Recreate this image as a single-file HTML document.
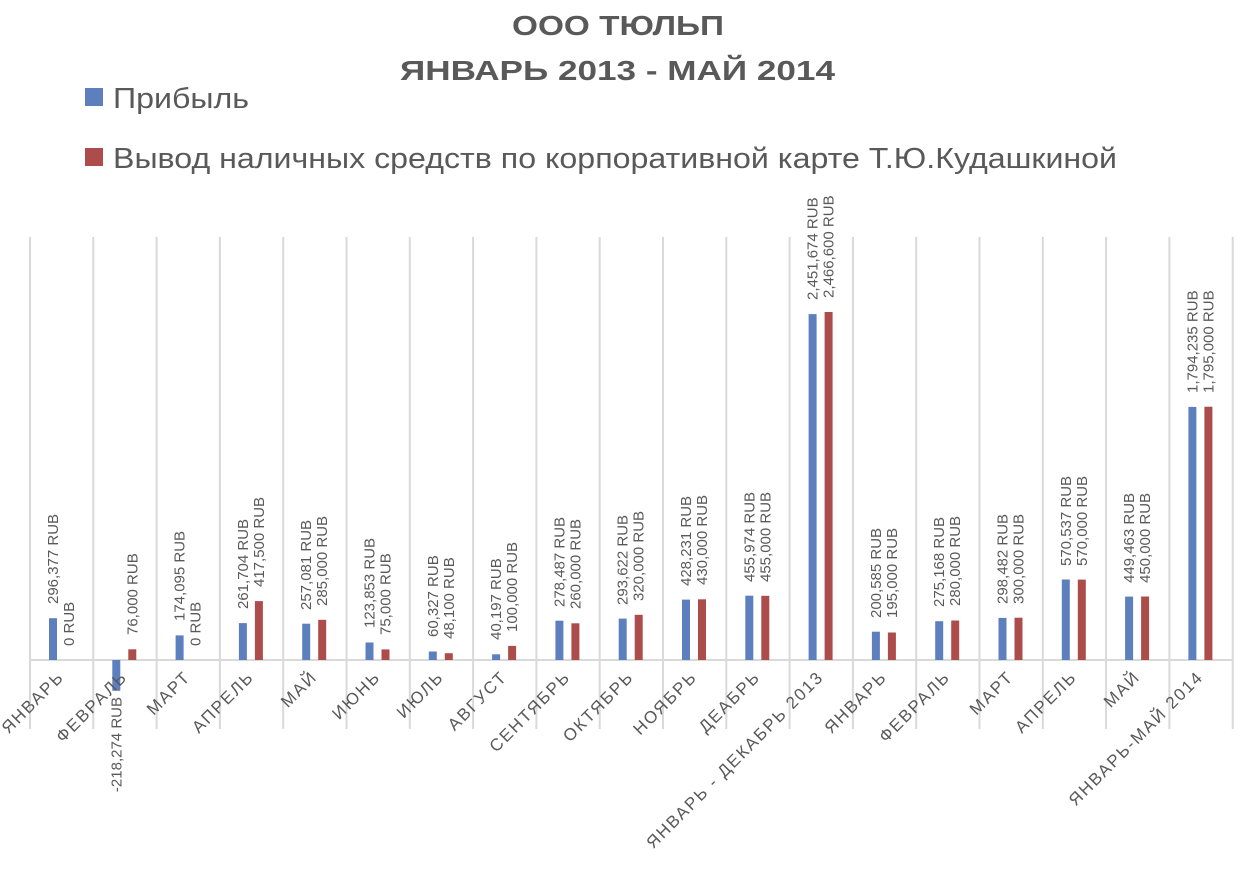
<!DOCTYPE html>
<html><head><meta charset="utf-8"><style>
html,body{margin:0;padding:0;background:#fff;}
svg{display:block;font-family:"Liberation Sans","DejaVu Sans",sans-serif;}
.v{font-size:15px;fill:#595959;}
.c{font-size:17px;fill:#595959;letter-spacing:1.8px;}
.b{fill:#5E7FBE}.r{fill:#AD4D4B}
</style></head><body>
<svg width="1241" height="871" viewBox="0 0 1241 871">
<text x="512" y="35" textLength="212" lengthAdjust="spacingAndGlyphs" font-size="28" font-weight="bold" fill="#595959">ООО ТЮЛЬП</text>
<text x="400" y="80" textLength="435" lengthAdjust="spacingAndGlyphs" font-size="28" font-weight="bold" fill="#595959">ЯНВАРЬ 2013 - МАЙ 2014</text>
<rect x="85" y="88" width="18" height="18" class="b"/>
<text x="113" y="108" font-size="29" textLength="136" lengthAdjust="spacingAndGlyphs" fill="#595959">Прибыль</text>
<rect x="85" y="148" width="18" height="18" class="r"/>
<text x="113" y="168" font-size="29" textLength="1004" lengthAdjust="spacingAndGlyphs" fill="#595959">Вывод наличных средств по корпоративной карте Т.Ю.Кудашкиной</text>
<g stroke="#d9d9d9" stroke-width="2">
<line x1="30" y1="237" x2="30" y2="729"/><line x1="93.3" y1="237" x2="93.3" y2="729"/><line x1="156.6" y1="237" x2="156.6" y2="729"/><line x1="219.9" y1="237" x2="219.9" y2="729"/><line x1="283.2" y1="237" x2="283.2" y2="729"/><line x1="346.5" y1="237" x2="346.5" y2="729"/><line x1="409.8" y1="237" x2="409.8" y2="729"/><line x1="473.1" y1="237" x2="473.1" y2="729"/><line x1="536.4" y1="237" x2="536.4" y2="729"/><line x1="599.7" y1="237" x2="599.7" y2="729"/><line x1="663" y1="237" x2="663" y2="729"/><line x1="726.3" y1="237" x2="726.3" y2="729"/><line x1="789.6" y1="237" x2="789.6" y2="729"/><line x1="852.9" y1="237" x2="852.9" y2="729"/><line x1="916.2" y1="237" x2="916.2" y2="729"/><line x1="979.5" y1="237" x2="979.5" y2="729"/><line x1="1042.8" y1="237" x2="1042.8" y2="729"/><line x1="1106.1" y1="237" x2="1106.1" y2="729"/><line x1="1169.4" y1="237" x2="1169.4" y2="729"/><line x1="1232.7" y1="237" x2="1232.7" y2="729"/>
<line x1="30" y1="660" x2="1233" y2="660"/>
</g>

<g transform="translate(30,0)">
<rect x="19" y="618.2" width="8" height="41.8" class="b"/>
<text class="v" transform="translate(28,604) rotate(-90)">296,377 RUB</text>
<text class="v" transform="translate(44,646) rotate(-90)">0 RUB</text>
<text class="c" text-anchor="end" transform="translate(35,678) rotate(-45)">ЯНВАРЬ</text>
</g>
<g transform="translate(93.3,0)">
<rect x="19" y="660" width="8" height="30.8" class="b"/>
<rect x="35" y="649.3" width="8" height="10.7" class="r"/>
<text class="v" text-anchor="end" transform="translate(28,697) rotate(-90)">-218,274 RUB</text>
<text class="v" transform="translate(44,635) rotate(-90)">76,000 RUB</text>
<text class="c" text-anchor="end" transform="translate(35,678) rotate(-45)">ФЕВРАЛЬ</text>
</g>
<g transform="translate(156.6,0)">
<rect x="19" y="635.4" width="8" height="24.6" class="b"/>
<text class="v" transform="translate(28,621) rotate(-90)">174,095 RUB</text>
<text class="v" transform="translate(44,646) rotate(-90)">0 RUB</text>
<text class="c" text-anchor="end" transform="translate(35,678) rotate(-45)">МАРТ</text>
</g>
<g transform="translate(219.9,0)">
<rect x="19" y="623.1" width="8" height="36.9" class="b"/>
<rect x="35" y="601.1" width="8" height="58.9" class="r"/>
<text class="v" transform="translate(28,609) rotate(-90)">261,704 RUB</text>
<text class="v" transform="translate(44,587) rotate(-90)">417,500 RUB</text>
<text class="c" text-anchor="end" transform="translate(35,678) rotate(-45)">АПРЕЛЬ</text>
</g>
<g transform="translate(283.2,0)">
<rect x="19" y="623.7" width="8" height="36.3" class="b"/>
<rect x="35" y="619.8" width="8" height="40.2" class="r"/>
<text class="v" transform="translate(28,610) rotate(-90)">257,081 RUB</text>
<text class="v" transform="translate(44,606) rotate(-90)">285,000 RUB</text>
<text class="c" text-anchor="end" transform="translate(35,678) rotate(-45)">МАЙ</text>
</g>
<g transform="translate(346.5,0)">
<rect x="19" y="642.5" width="8" height="17.5" class="b"/>
<rect x="35" y="649.4" width="8" height="10.6" class="r"/>
<text class="v" transform="translate(28,628) rotate(-90)">123,853 RUB</text>
<text class="v" transform="translate(44,635) rotate(-90)">75,000 RUB</text>
<text class="c" text-anchor="end" transform="translate(35,678) rotate(-45)">ИЮНЬ</text>
</g>
<g transform="translate(409.8,0)">
<rect x="19" y="651.5" width="8" height="8.5" class="b"/>
<rect x="35" y="653.2" width="8" height="6.8" class="r"/>
<text class="v" transform="translate(28,637) rotate(-90)">60,327 RUB</text>
<text class="v" transform="translate(44,639) rotate(-90)">48,100 RUB</text>
<text class="c" text-anchor="end" transform="translate(35,678) rotate(-45)">ИЮЛЬ</text>
</g>
<g transform="translate(473.1,0)">
<rect x="19" y="654.3" width="8" height="5.7" class="b"/>
<rect x="35" y="645.9" width="8" height="14.1" class="r"/>
<text class="v" transform="translate(28,640) rotate(-90)">40,197 RUB</text>
<text class="v" transform="translate(44,632) rotate(-90)">100,000 RUB</text>
<text class="c" text-anchor="end" transform="translate(35,678) rotate(-45)">АВГУСТ</text>
</g>
<g transform="translate(536.4,0)">
<rect x="19" y="620.7" width="8" height="39.3" class="b"/>
<rect x="35" y="623.3" width="8" height="36.7" class="r"/>
<text class="v" transform="translate(28,607) rotate(-90)">278,487 RUB</text>
<text class="v" transform="translate(44,609) rotate(-90)">260,000 RUB</text>
<text class="c" text-anchor="end" transform="translate(35,678) rotate(-45)">СЕНТЯБРЬ</text>
</g>
<g transform="translate(599.7,0)">
<rect x="19" y="618.6" width="8" height="41.4" class="b"/>
<rect x="35" y="614.8" width="8" height="45.2" class="r"/>
<text class="v" transform="translate(28,605) rotate(-90)">293,622 RUB</text>
<text class="v" transform="translate(44,601) rotate(-90)">320,000 RUB</text>
<text class="c" text-anchor="end" transform="translate(35,678) rotate(-45)">ОКТЯБРЬ</text>
</g>
<g transform="translate(663,0)">
<rect x="19" y="599.6" width="8" height="60.4" class="b"/>
<rect x="35" y="599.3" width="8" height="60.7" class="r"/>
<text class="v" transform="translate(28,586) rotate(-90)">428,231 RUB</text>
<text class="v" transform="translate(44,585) rotate(-90)">430,000 RUB</text>
<text class="c" text-anchor="end" transform="translate(35,678) rotate(-45)">НОЯБРЬ</text>
</g>
<g transform="translate(726.3,0)">
<rect x="19" y="595.7" width="8" height="64.3" class="b"/>
<rect x="35" y="595.8" width="8" height="64.2" class="r"/>
<text class="v" transform="translate(28,582) rotate(-90)">455,974 RUB</text>
<text class="v" transform="translate(44,582) rotate(-90)">455,000 RUB</text>
<text class="c" text-anchor="end" transform="translate(35,678) rotate(-45)">ДЕАБРЬ</text>
</g>
<g transform="translate(789.6,0)">
<rect x="19" y="314.1" width="8" height="345.9" class="b"/>
<rect x="35" y="312" width="8" height="348" class="r"/>
<text class="v" transform="translate(28,300) rotate(-90)">2,451,674 RUB</text>
<text class="v" transform="translate(44,298) rotate(-90)">2,466,600 RUB</text>
<text class="c" text-anchor="end" transform="translate(35,678) rotate(-45)">ЯНВАРЬ - ДЕКАБРЬ 2013</text>
</g>
<g transform="translate(852.9,0)">
<rect x="19" y="631.7" width="8" height="28.3" class="b"/>
<rect x="35" y="632.5" width="8" height="27.5" class="r"/>
<text class="v" transform="translate(28,618) rotate(-90)">200,585 RUB</text>
<text class="v" transform="translate(44,618) rotate(-90)">195,000 RUB</text>
<text class="c" text-anchor="end" transform="translate(35,678) rotate(-45)">ЯНВАРЬ</text>
</g>
<g transform="translate(916.2,0)">
<rect x="19" y="621.2" width="8" height="38.8" class="b"/>
<rect x="35" y="620.5" width="8" height="39.5" class="r"/>
<text class="v" transform="translate(28,607) rotate(-90)">275,168 RUB</text>
<text class="v" transform="translate(44,606) rotate(-90)">280,000 RUB</text>
<text class="c" text-anchor="end" transform="translate(35,678) rotate(-45)">ФЕВРАЛЬ</text>
</g>
<g transform="translate(979.5,0)">
<rect x="19" y="617.9" width="8" height="42.1" class="b"/>
<rect x="35" y="617.7" width="8" height="42.3" class="r"/>
<text class="v" transform="translate(28,604) rotate(-90)">298,482 RUB</text>
<text class="v" transform="translate(44,604) rotate(-90)">300,000 RUB</text>
<text class="c" text-anchor="end" transform="translate(35,678) rotate(-45)">МАРТ</text>
</g>
<g transform="translate(1042.8,0)">
<rect x="19" y="579.5" width="8" height="80.5" class="b"/>
<rect x="35" y="579.6" width="8" height="80.4" class="r"/>
<text class="v" transform="translate(28,566) rotate(-90)">570,537 RUB</text>
<text class="v" transform="translate(44,566) rotate(-90)">570,000 RUB</text>
<text class="c" text-anchor="end" transform="translate(35,678) rotate(-45)">АПРЕЛЬ</text>
</g>
<g transform="translate(1106.1,0)">
<rect x="19" y="596.6" width="8" height="63.4" class="b"/>
<rect x="35" y="596.5" width="8" height="63.5" class="r"/>
<text class="v" transform="translate(28,583) rotate(-90)">449,463 RUB</text>
<text class="v" transform="translate(44,583) rotate(-90)">450,000 RUB</text>
<text class="c" text-anchor="end" transform="translate(35,678) rotate(-45)">МАЙ</text>
</g>
<g transform="translate(1169.4,0)">
<rect x="19" y="406.9" width="8" height="253.1" class="b"/>
<rect x="35" y="406.7" width="8" height="253.3" class="r"/>
<text class="v" transform="translate(28,393) rotate(-90)">1,794,235 RUB</text>
<text class="v" transform="translate(44,393) rotate(-90)">1,795,000 RUB</text>
<text class="c" text-anchor="end" transform="translate(35,678) rotate(-45)">ЯНВАРЬ-МАЙ 2014</text>
</g>
</svg>
</body></html>
